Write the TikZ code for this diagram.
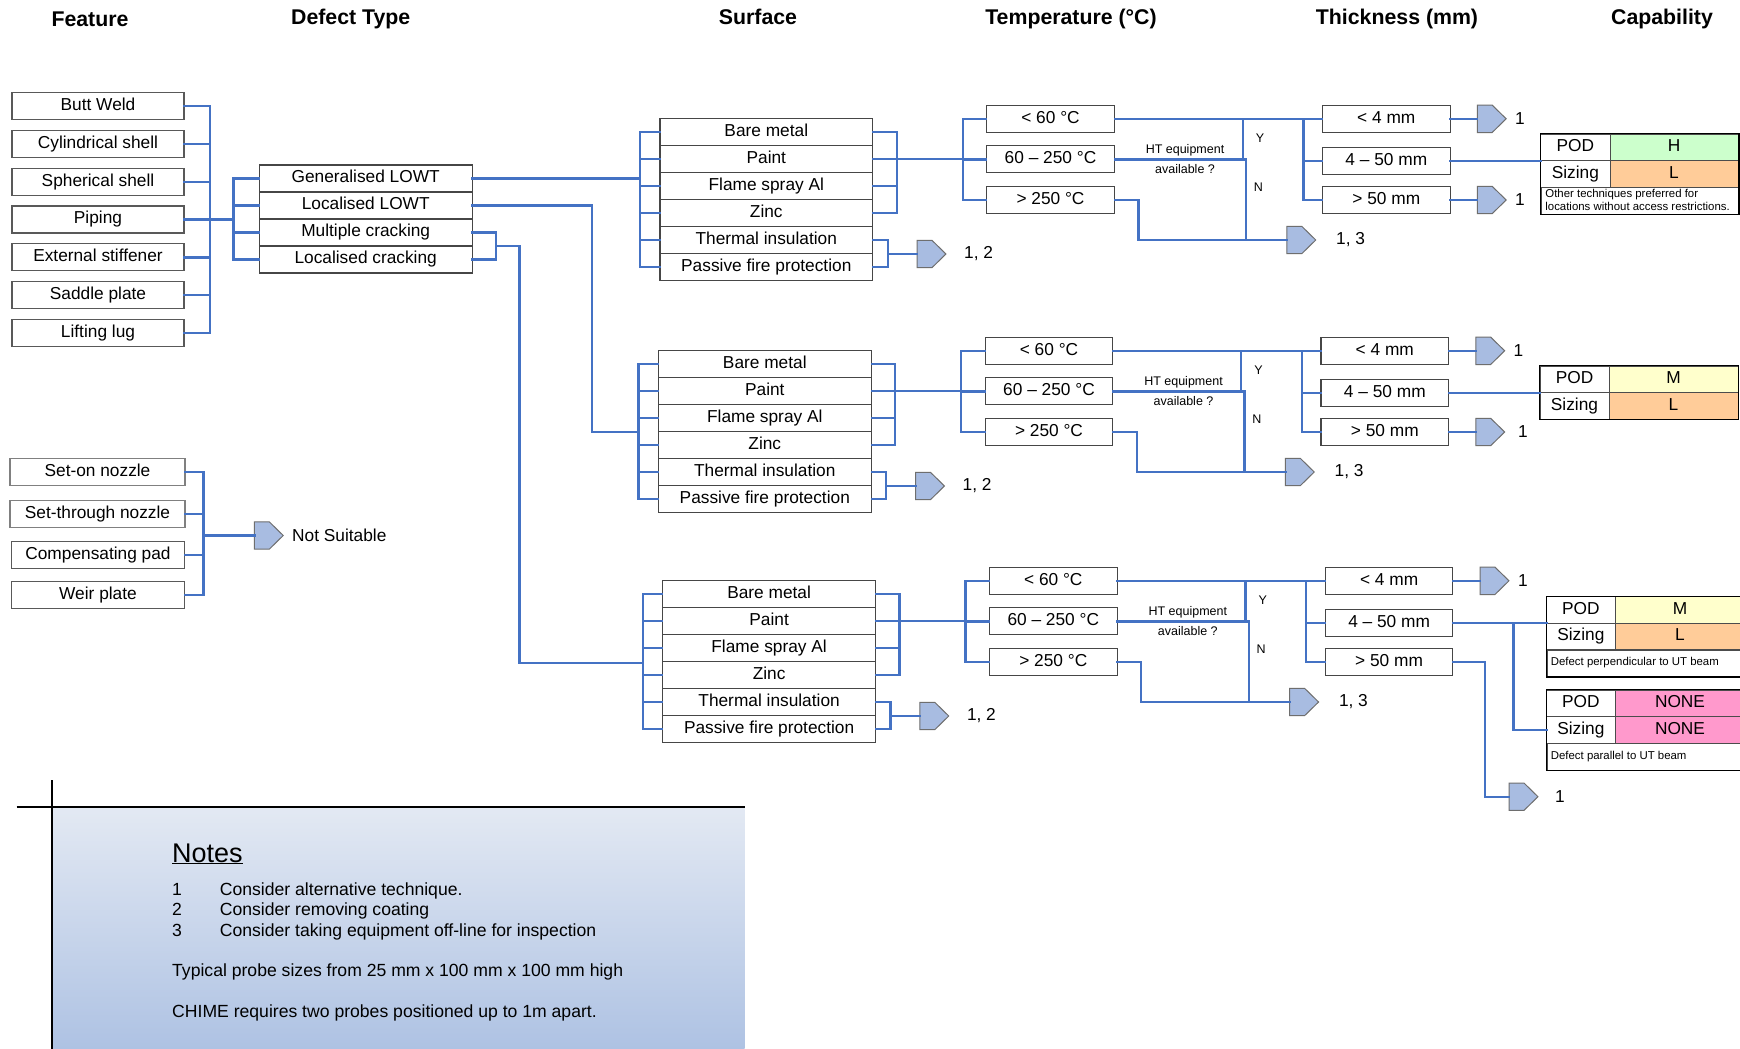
\documentclass[tikz,border=0pt]{standalone}
\usepackage{fontspec}
\setmainfont{Liberation Sans}
\usetikzlibrary{calc}
\definecolor{lkblue}{RGB}{68,114,196}
\definecolor{boxline}{RGB}{70,70,70}
\definecolor{arrfill}{RGB}{168,188,225}
\definecolor{arrline}{RGB}{110,110,110}
\definecolor{cgreen}{RGB}{204,255,204}
\definecolor{corange}{RGB}{255,204,153}
\definecolor{cyellow}{RGB}{255,255,204}
\definecolor{cpink}{RGB}{255,153,204}
\definecolor{ntop}{RGB}{227,233,243}
\definecolor{nbot}{RGB}{174,194,227}
\newcommand{\pent}[1]{\draw[pentst] (#1.north west) -- ([xshift=-14pt]#1.north east) -- (#1.east) -- ([xshift=-14pt]#1.south east) -- (#1.south west) -- cycle;}
\newcommand{\sblock}[3]{%
  \node[srow] (s#1-1) at ({766.3+#2},{131.8+#3}) {Bare metal};
  \node[srow] (s#1-2) at ({766.3+#2},{158.8+#3}) {Paint};
  \node[srow] (s#1-3) at ({766.3+#2},{185.8+#3}) {Flame spray Al};
  \node[srow] (s#1-4) at ({766.3+#2},{212.8+#3}) {Zinc};
  \node[srow] (s#1-5) at ({766.3+#2},{239.8+#3}) {Thermal insulation};
  \node[srow] (s#1-6) at ({766.3+#2},{266.8+#3}) {Passive fire protection};
  \coordinate (lb#1) at ({640+#2},{#3});
  \coordinate (rb#1) at ({896.7+#2},{#3});
  \coordinate (bk#1) at ({887.7+#2},{#3});
  \coordinate (tb#1) at ({962.7+#2},{#3});
  \coordinate (yl#1) at ({1242.7+#2},{#3});
  \coordinate (nl#1) at ({1246+#2},{#3});
  \coordinate (gt#1) at ({1138.3+#2},{#3});
  \coordinate (hb#1) at ({1303.3+#2},{#3});
  \node[arr] (ac-#1) at ({931.5+#2},{254+#3}) {};
  \pent{ac-#1}
  \node[lbl] (lc-#1) at ({964+#2},{254+#3}) {1, 2};
  \node[tbox] (t#1-1) at ({1050.5+#2},{118.8+#3}) {< 60 °C};
  \node[tbox] (t#1-2) at ({1050.5+#2},{159.3+#3}) {60 – 250 °C};
  \node[tbox] (t#1-3) at ({1050.5+#2},{200+#3}) {> 250 °C};
  \node[sml] (ht-#1) at ({1185+#2},{150+#3}) {HT equipment};
  \node[sml] (av-#1) at ({1185+#2},{169.3+#3}) {available ?};
  \node[sml] (yy-#1) at ({1260+#2},{137.7+#3}) {Y};
  \node[sml] (nn-#1) at ({1258.3+#2},{186.7+#3}) {N};
  \node[arr] (ah-#1) at ({1301.3+#2},{240+#3}) {};
  \pent{ah-#1}
  \node[lbl] (lh-#1) at ({1336+#2},{240+#3}) {1, 3};
  \node[tbox] (h#1-1) at ({1386.3+#2},{118.8+#3}) {< 4 mm};
  \node[tbox] (h#1-2) at ({1386.3+#2},{160.8+#3}) {4 – 50 mm};
  \node[tbox] (h#1-3) at ({1386.3+#2},{200+#3}) {> 50 mm};
  \node[arr] (at-#1) at ({1491.7+#2},{118.8+#3}) {};
  \pent{at-#1}
  \node[lbl] (lt-#1) at ({1515+#2},{118.8+#3}) {1};
  \foreach \i in {1,...,6} {\draw[lk] (s#1-\i.west) -- (s#1-\i.west -| lb#1);}
  \draw[lk] (s#1-1.west -| lb#1) -- (s#1-6.west -| lb#1);
  \foreach \i in {1,...,4} {\draw[lk] (s#1-\i.east) -- (s#1-\i.east -| rb#1);}
  \draw[lk] (s#1-1.east -| rb#1) -- (s#1-4.east -| rb#1);
  \draw[lk] (s#1-2.east -| rb#1) -- (s#1-2.east -| tb#1);
  \draw[lk] (t#1-1.west -| tb#1) -- (t#1-3.west -| tb#1);
  \foreach \i in {1,2,3} {\draw[lk] (t#1-\i.west -| tb#1) -- (t#1-\i.west);}
  \draw[lk] (s#1-5.east) -| (bk#1 |- s#1-6.east) -- (s#1-6.east);
  \draw[lk] (bk#1 |- ac-#1.west) -- (ac-#1.west);
  \draw[lk] (t#1-1.east) -- (h#1-1.west);
  \draw[lk] (t#1-1.east -| yl#1) -- (t#1-2.east -| yl#1);
  \draw[lk] (t#1-2.east) -| (nl#1 |- ah-#1.west);
  \draw[lk] (t#1-3.east) -| (gt#1 |- ah-#1.west) -- (ah-#1.west);
  \draw[lk] (h#1-1.west -| hb#1) -- (h#1-3.west -| hb#1);
  \draw[lk] (h#1-2.west -| hb#1) -- (h#1-2.west);
  \draw[lk] (h#1-3.west -| hb#1) -- (h#1-3.west);
  \draw[lk] (h#1-1.east) -- (at-#1.west);
}
\begin{document}
\begin{tikzpicture}[x=1pt,y=-1pt,
  lk/.style={draw=lkblue,line width=2.4pt,line cap=rect},
  bx/.style={draw=boxline,line width=1.1pt,fill=white,inner sep=0pt,minimum height=27pt,
     text height=12.4pt,text depth=3.8pt,font=\fontsize{17.3}{20}\selectfont},
  fbox/.style={bx,minimum width=172pt,draw=black!65},
  drow/.style={bx,minimum width=212.7pt},
  srow/.style={bx,minimum width=212.7pt},
  tbox/.style={bx,minimum width=127.6pt},
  arr/.style={rectangle,minimum width=28.5pt,minimum height=27pt,inner sep=0pt},
  pentst/.style={fill=arrfill,draw=arrline,line width=1pt,line join=miter},
  lbl/.style={inner sep=0pt,anchor=west,font=\fontsize{17.3}{20}\selectfont},
  sml/.style={inner sep=0pt,font=\fontsize{12.5}{14}\selectfont},
  hdr/.style={inner sep=0pt,font=\fontsize{21.3}{24}\selectfont\bfseries},
  cell/.style={draw=black!70,line width=0.8pt,inner sep=0pt,minimum height=26.5pt,
     text height=12.4pt,text depth=3.8pt,font=\fontsize{17.3}{20}\selectfont},
  ntcell/.style={draw=black!70,line width=0.8pt,inner sep=0pt,minimum height=26.5pt,anchor=north west},
  nttxt/.style={inner sep=0pt,anchor=west,align=left,font=\fontsize{11.4}{13.3}\selectfont},
  ntxt/.style={inner sep=0pt,anchor=base west,font=\fontsize{17.6}{21}\selectfont},
  tborder/.style={draw=black,line width=1.4pt}
]
\useasboundingbox (0,0) rectangle (1740,1049);
\fill[white] (0,0) rectangle (1740,1049);

% headers
\node[hdr] (hf) at (90,18.9) {Feature};
\node[hdr] (hd) at (350.7,18.9) {Defect Type};
\node[hdr] (hs) at (758,16.6) {Surface};
\node[hdr] (ht) at (1071,18.9) {Temperature (°C)};
\node[hdr] (hk) at (1397,18.9) {Thickness (mm)};
\node[hdr] (hc) at (1662,18.9) {Capability};

% features
\node[fbox] (f1) at (98,106) {Butt Weld};
\node[fbox] (f2) at (98,143.8) {Cylindrical shell};
\node[fbox] (f3) at (98,181.7) {Spherical shell};
\node[fbox] (f4) at (98,219.5) {Piping};
\node[fbox] (f5) at (98,257.3) {External stiffener};
\node[fbox] (f6) at (98,295.2) {Saddle plate};
\node[fbox] (f7) at (98,333) {Lifting lug};
\coordinate (fb) at (210,0);
\coordinate (db) at (233.3,0);
\node[drow] (d1) at (365.7,178.5) {Generalised LOWT};
\node[drow] (d2) at (365.7,205.5) {Localised LOWT};
\node[drow] (d3) at (365.7,232.5) {Multiple cracking};
\node[drow] (d4) at (365.7,259.5) {Localised cracking};
\foreach \n in {f1,f2,f3,f4,f5,f6,f7} {\draw[lk] (\n.east) -- (\n.east -| fb);}
\draw[lk] (f1.east -| fb) -- (f7.east -| fb);
\draw[lk] (f4.east -| fb) -- (f4.east -| db);
\draw[lk] (d1.west -| db) -- (d4.west -| db);
\foreach \n in {d1,d2,d3,d4} {\draw[lk] (\n.west -| db) -- (\n.west);}

% surface / temperature / thickness blocks
\sblock{1}{0}{0}
\sblock{2}{-1.5}{232}
\sblock{3}{2.8}{462}

% defect type to blocks
\draw[lk] (d1.east) -- (d1.east -| lb1);
\coordinate (k2) at (591.7,0);
\coordinate (e2) at (0,432);
\draw[lk] (d2.east) -| (k2 |- e2) -- (lb2 |- e2);
\coordinate (cb) at (495.7,0);
\coordinate (k3) at (519.3,0);
\coordinate (e3) at (0,662.7);
\draw[lk] (d3.east) -| (cb |- d4.east) -- (d4.east);
\coordinate (cm) at ($(d3.east)!0.5!(d4.east)$);
\draw[lk] (cm -| cb) -| (k3 |- e3) -- (lb3 |- e3);

% block 1 thickness outputs
\node[arr] (af-1) at (1491.7,200) {};
\pent{af-1}
\node[lbl] (lf-1) at (1515,200) {1};
\draw[lk] (h1-3.east) -- (af-1.west);
% table 1
\node[cell,minimum width=69.3pt] (pl1) at (1575.35,147.25) {POD};
\node[cell,minimum width=128pt,fill=cgreen] (pv1) at (1674,147.25) {H};
\node[cell,minimum width=69.3pt] (sl1) at (1575.35,173.75) {Sizing};
\node[cell,minimum width=128pt,fill=corange] (sv1) at (1674,173.75) {L};
\node[ntcell,minimum width=197.3pt] (nt1) at (1540.7,187) {};
\node[nttxt] (ntx1) at (1545.2,200.25) {Other techniques preferred for\\locations without access restrictions.};
\draw[tborder] (pl1.north west) rectangle (nt1.south east);
\draw[lk] (h1-2.east) -- (h1-2.east -| pl1.south west);

% block 2 thickness outputs
\node[arr] (af-2) at (1490.2,432) {};
\pent{af-2}
\node[lbl] (lf-2) at (1518,432) {1};
\draw[lk] (h2-3.east) -- (af-2.west);
% table 2
\node[cell,minimum width=69pt] (pl2) at (1574.5,379.25) {POD};
\node[cell,minimum width=129pt,fill=cyellow] (pv2) at (1673.5,379.25) {M};
\node[cell,minimum width=69pt] (sl2) at (1574.5,405.75) {Sizing};
\node[cell,minimum width=129pt,fill=corange] (sv2) at (1673.5,405.75) {L};
\draw[tborder] (pl2.north west) rectangle (sv2.south east);
\draw[lk] (h2-2.east) -- (h2-2.east -| pl2.south west);

% block 3 tables
\node[cell,minimum width=68.3pt] (pl3) at (1580.85,609.95) {POD};
\node[cell,minimum width=130pt,fill=cyellow] (pv3) at (1680,609.95) {M};
\node[cell,minimum width=68.3pt] (sl3) at (1580.85,636.45) {Sizing};
\node[cell,minimum width=130pt,fill=corange] (sv3) at (1680,636.45) {L};
\node[ntcell,minimum width=198.3pt] (nt3) at (1546.7,649.7) {};
\node[nttxt] (ntx3) at (1550.7,663) {Defect perpendicular to UT beam};
\draw[tborder] (pl3.north west) rectangle (nt3.south east);
\node[cell,minimum width=68.3pt] (pl4) at (1580.85,703.25) {POD};
\node[cell,minimum width=130pt,fill=cpink] (pv4) at (1680,703.25) {NONE};
\node[cell,minimum width=68.3pt] (sl4) at (1580.85,729.75) {Sizing};
\node[cell,minimum width=130pt,fill=cpink] (sv4) at (1680,729.75) {NONE};
\node[ntcell,minimum width=198.3pt] (nt4) at (1546.7,743) {};
\node[nttxt] (ntx4) at (1550.7,756.25) {Defect parallel to UT beam};
\draw[tborder] (pl4.north west) rectangle (nt4.south east);
\coordinate (br3) at (1513.3,0);
\draw[lk] (h3-2.east) -- (h3-2.east -| pl3.south west);
\draw[lk] (h3-2.east -| br3) |- (sl4.west);
\coordinate (g3) at (1485,0);
\node[arr] (af-3) at (1523.5,796.7) {};
\pent{af-3}
\node[lbl] (lf-3) at (1555,796.7) {1};
\draw[lk] (h3-3.east) -| (g3 |- af-3.west) -- (af-3.west);

% not suitable group
\node[fbox,minimum width=175pt,draw=black!50] (ns1) at (97.5,471.8) {Set-on nozzle};
\node[fbox,minimum width=175pt,draw=black!50] (ns2) at (97.5,514.2) {Set-through nozzle};
\node[fbox,minimum width=172.6pt] (ns3) at (98,555) {Compensating pad};
\node[fbox,minimum width=172.6pt] (ns4) at (98,594.7) {Weir plate};
\coordinate (nsb) at (203.3,0);
\node[arr] (nsa) at (268.8,535.5) {};
\pent{nsa}
\node[lbl] (nsl) at (292,535.5) {Not Suitable};
\foreach \n in {ns1,ns2,ns3,ns4} {\draw[lk] (\n.east) -- (\n.east -| nsb);}
\draw[lk] (ns1.east -| nsb) -- (ns4.east -| nsb);
\draw[lk] (nsa.west -| nsb) -- (nsa.west);

% notes
\shade[top color=ntop,bottom color=nbot] (52.2,806.7) rectangle (744.6,1049);
\draw[black,line width=1.8pt] (16.6,806.7) -- (744.6,806.7);
\draw[black,line width=1.8pt] (52.2,780) -- (52.2,1049);
\node[ntxt,font=\fontsize{27}{30}\selectfont] (nh) at (172,862) {\underline{Notes}};
\node[ntxt] (n1a) at (172,895.4) {1};
\node[ntxt] (n1b) at (219.7,895.4) {Consider alternative technique.};
\node[ntxt] (n2a) at (172,915.3) {2};
\node[ntxt] (n2b) at (219.7,915.3) {Consider removing coating};
\node[ntxt] (n3a) at (172,936.5) {3};
\node[ntxt] (n3b) at (219.7,936.5) {Consider taking equipment off-line for inspection};
\node[ntxt] (n4) at (172,976.5) {Typical probe sizes from 25 mm x 100 mm x 100 mm high};
\node[ntxt] (n5) at (172,1017.5) {CHIME requires two probes positioned up to 1m apart.};
\end{tikzpicture}
\end{document}
